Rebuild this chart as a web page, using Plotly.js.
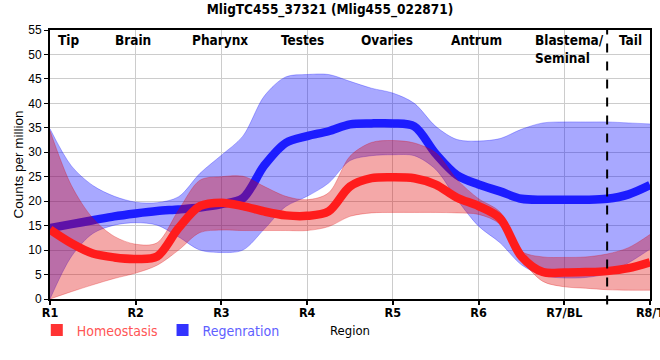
<!DOCTYPE html>
<html>
<head>
<meta charset="utf-8">
<script src="https://cdn.plot.ly/plotly-3.0.1.min.js"></script>
<style>html,body{margin:0;padding:0;background:#fff;}#chart{width:660px;height:360px;}</style>
</head>
<body>
<div id="chart"></div>
<script>
const regionPos = [0,0.25,0.5,0.75,1,1.25,1.5,1.75,2,2.25,2.5,2.75,3,3.25,3.5,3.75,4,4.25,4.5,4.75,5,5.25,5.5,5.75,6,6.25,6.5,6.75,7];
const regionTicks = ['R1','R2','R3','R4','R5','R6','R7/BL','R8/T'];
const tissueNames = ['Tip','Brain','Pharynx','Testes','Ovaries','Antrum','Blastema/<br>Seminal','Tail'];
const tissuePos = [0.22,0.97,1.98,2.95,3.93,4.98,5.64,6.77];
const boundaryPos = [6.5];

// Regeneration (blue)
const regenMean  = [14.5,15.3,16.1,16.9,17.5,18.0,18.3,18.7,19.4,20.6,27.3,31.9,33.3,34.3,35.7,35.9,35.9,35.3,29.7,25.3,23.4,22.0,20.5,20.3,20.3,20.3,20.5,21.4,23.3];
const regenUpper = [34.8,27.2,23.2,21.0,19.8,19.7,20.9,25.7,29.4,33.3,41.5,45.4,45.9,45.9,44.5,43.1,42.1,40.0,35.3,32.6,32.3,32.8,34.7,36.0,36.2,36.2,36.2,36.0,35.8];
const regenLower = [0,8.7,13.4,15.1,15.6,15.1,12.7,10.0,9.5,10.0,14.3,18.9,21.0,23.7,28.3,29.3,29.5,29.3,26.5,20.3,14.9,11.5,7.0,4.8,4.3,4.4,5.2,7.4,10.2];

// Homeostasis (red)
const homeoMean  = [14.2,11.4,9.3,8.5,8.2,8.7,14.5,19.0,19.7,19.0,17.9,17.1,17.0,17.9,23.0,24.7,24.9,24.7,23.4,20.7,19.0,16.5,8.7,5.5,5.4,5.5,5.7,6.3,7.5];
const homeoUpper = [34.4,23.2,16.5,12.8,11.2,11.5,18.2,24.3,25.0,25.1,23.0,21.0,20.3,21.7,29.2,32.0,32.4,31.9,29.9,24.4,20.5,17.8,9.8,8.6,8.5,8.6,9.2,10.5,13.2];
const homeoLower = [0,1.5,2.9,4.2,5.3,6.9,10.0,13.6,14.1,14.0,14.0,14.0,14.0,14.8,16.9,17.6,17.7,17.7,17.7,17.6,17.3,15.3,8.1,3.6,2.5,2.2,1.9,1.8,1.8];

const NARROW = 'Liberation Sans Narrow, Arial Narrow, DejaVu Sans Condensed, sans-serif';
const REG = 'Liberation Sans, Arial, sans-serif';
const blueBand = 'rgba(0,0,255,0.34)';
const redBand = 'rgba(222,0,0,0.34)';
const sm = 0.9;

const traces = [
  {x: regionPos, y: regenLower, mode:'lines', line:{color:blueBand, width:0.8, shape:'spline', smoothing:sm}, showlegend:false, hoverinfo:'skip'},
  {x: regionPos, y: regenUpper, mode:'lines', fill:'tonexty', fillcolor:blueBand, line:{color:blueBand, width:0.8, shape:'spline', smoothing:sm}, showlegend:false, hoverinfo:'skip'},
  {x: regionPos, y: regenMean, mode:'lines', line:{color:'#1c1cff', width:8.5, shape:'spline', smoothing:sm}, showlegend:false},
  {x: regionPos, y: homeoLower, mode:'lines', line:{color:redBand, width:0.8, shape:'spline', smoothing:sm}, showlegend:false, hoverinfo:'skip'},
  {x: regionPos, y: homeoUpper, mode:'lines', fill:'tonexty', fillcolor:redBand, line:{color:redBand, width:0.8, shape:'spline', smoothing:sm}, showlegend:false, hoverinfo:'skip'},
  {x: regionPos, y: homeoMean, mode:'lines', line:{color:'#ff1c1c', width:8.5, shape:'spline', smoothing:sm}, showlegend:false},
  {x:[null], y:[null], mode:'markers', marker:{symbol:'square', size:12, color:'#ff3333'}, name:'<span style="color:#ff5555">Homeostasis</span>'},
  {x:[null], y:[null], mode:'markers', marker:{symbol:'square', size:12, color:'#3333ff'}, name:'<span style="color:#6060ff">Regenration</span>'}
];

const annotations = tissueNames.map((t,i) => ({
  x: tissuePos[i], y: 55, xref:'x', yref:'y',
  text: t, showarrow:false,
  xanchor: t.indexOf('<br>')>=0 ? 'left' : 'center', yanchor:'top', align:'left',
  font:{family:NARROW, size:13.5, color:'#000', weight:'bold'}
}));

const shapes = boundaryPos.map(b => ({
  type:'line', xref:'x', yref:'paper', x0:b, x1:b, y0:-0.02, y1:1,
  line:{color:'#000', width:2, dash:'dash'}
}));

const layout = {
  width:660, height:360,
  margin:{l:50, r:10, t:30, b:61},
  paper_bgcolor:'#fff', plot_bgcolor:'#fff',
  title:{text:'MligTC455_37321 (Mlig455_022871)', x:0.5, xanchor:'center', y:0.975, yanchor:'middle',
    font:{family:NARROW, size:13.5, color:'#000', weight:'bold'}},
  xaxis:{range:[0,7], tickmode:'array', tickvals:[0,1,2,3,4,5,6,7], ticktext:regionTicks,
    showgrid:true, gridcolor:'#cccccc', gridwidth:1, zeroline:false,
    showline:true, linecolor:'#000', linewidth:2, mirror:true,
    ticks:'outside', ticklen:4, tickcolor:'#000', tickwidth:2,
    ticklabelstandoff:-3, ticklabeloverflow:'allow',
    tickfont:{family:NARROW, size:12.5, color:'#000', weight:'bold'},
    title:{text:'Region', standoff:7, font:{family:NARROW, size:13, color:'#000'}}},
  yaxis:{range:[0,55], tickmode:'linear', tick0:0, dtick:5,
    showgrid:true, gridcolor:'#cccccc', gridwidth:1, zeroline:false,
    showline:true, linecolor:'#000', linewidth:2, mirror:true,
    ticks:'outside', ticklen:4, tickcolor:'#000', tickwidth:1,
    tickfont:{family:REG, size:12, color:'#000'},
    title:{text:'Counts per million', standoff:2, font:{family:REG, size:13.5, color:'#000'}}},
  showlegend:true,
  legend:{orientation:'h', traceorder:'normal', x:-0.022, xanchor:'left', y:-0.117, yanchor:'middle',
    font:{family:NARROW, size:14}, itemwidth:30, bgcolor:'rgba(0,0,0,0)', tracegroupgap:0},
  annotations: annotations,
  shapes: shapes
};

Plotly.newPlot('chart', traces, layout, {displayModeBar:false, staticPlot:true});
</script>
</body>
</html>
